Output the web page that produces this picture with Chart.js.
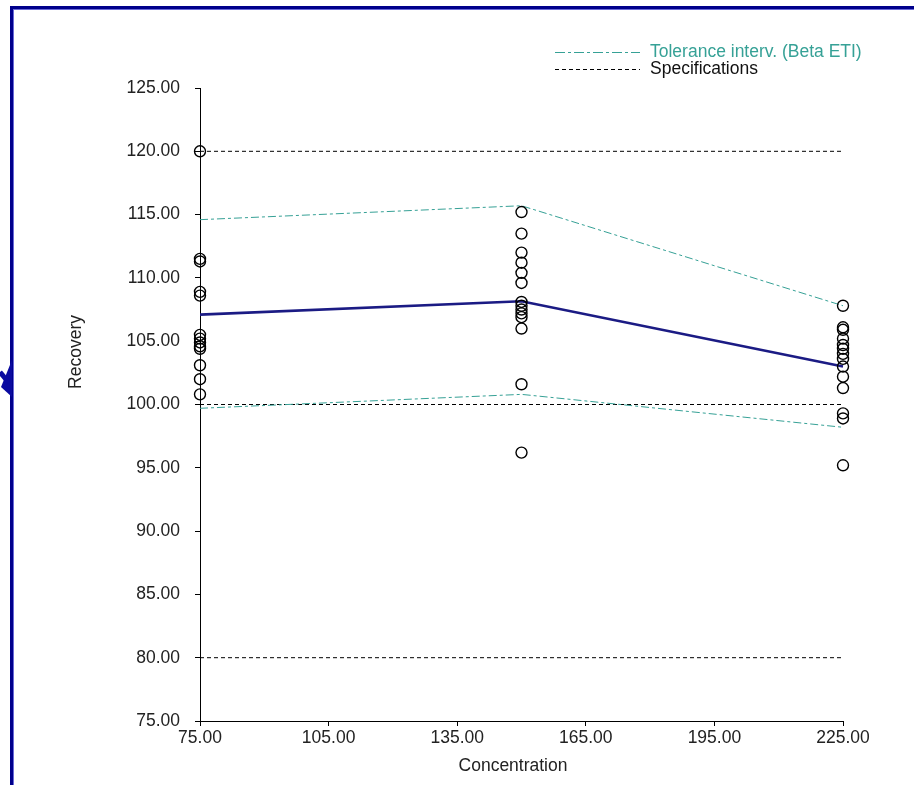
<!DOCTYPE html>
<html>
<head>
<meta charset="utf-8">
<script src="https://cdn.jsdelivr.net/npm/chart.js@4/dist/chart.umd.min.js"></script>
<style>
  html, body { margin: 0; padding: 0; background: #ffffff; }
  #wrap { position: absolute; left: 0; top: 0; width: 914px; height: 785px; }
</style>
</head>
<body>
<div id="wrap"><canvas id="c" width="914" height="785"></canvas></div>
<script>
// ---- data ----
const concentrations = [75, 150, 225];
const recovery75  = [120.0, 111.5, 111.3, 108.9, 108.6, 105.5, 105.2, 104.9, 104.6, 104.4, 103.1, 102.0, 100.8];
const recovery150 = [115.2, 113.5, 112.0, 111.2, 110.4, 109.6, 108.1, 107.8, 107.5, 107.2, 106.9, 106.0, 101.6, 96.2];
const recovery225 = [107.8, 106.1, 105.9, 105.2, 104.7, 104.4, 104.0, 103.6, 103.0, 102.2, 101.3, 99.3, 98.9, 95.2];
const meanRecovery   = [107.1, 108.15, 103.0];
const toleranceUpper = [114.6, 115.7, 107.8];
const toleranceLower = [99.7, 100.8, 98.2];
const specLimits = [120, 100, 80];
const xRange = [75, 225];
const yRange = [75, 125];
const legendLabels = ['Tolerance interv. (Beta ETI)', 'Specifications'];
const xTitle = 'Concentration';
const yTitle = 'Recovery';

// ---- build datasets ----
const recoveryGroups = [recovery75, recovery150, recovery225];
const pointData = [];
recoveryGroups.forEach((grp, i) => grp.forEach(v => pointData.push({ x: concentrations[i], y: v })));
const toXY = arr => arr.map((v, i) => ({ x: concentrations[i], y: v }));

const TEAL = '#36a196';
const NAVY = '#1b1b84';
const FONT = '"Liberation Sans", Arial, sans-serif';
const FSIZE = 17.5;

const datasets = [
  { label: 'obs', data: pointData, showLine: false, pointStyle: 'circle', pointRadius: 5.5,
    pointBorderColor: '#000', pointBackgroundColor: 'rgba(0,0,0,0)', pointBorderWidth: 1.4, clip: false },
  { label: 'mean', data: toXY(meanRecovery), showLine: true, borderColor: NAVY, borderWidth: 2.6,
    pointRadius: 0, tension: 0, clip: false },
  { label: 'tolU', data: toXY(toleranceUpper), showLine: true, borderColor: TEAL, borderWidth: 1,
    borderDash: [8, 3, 3, 3], pointRadius: 0, tension: 0, clip: false },
  { label: 'tolL', data: toXY(toleranceLower), showLine: true, borderColor: TEAL, borderWidth: 1,
    borderDash: [8, 3, 3, 3], pointRadius: 0, tension: 0, clip: false }
];
specLimits.forEach(s => datasets.push({
  label: 'spec' + s, data: [{ x: xRange[0], y: s }, { x: xRange[1], y: s }], showLine: true,
  borderColor: '#000', borderWidth: 1, borderDash: [4, 3], pointRadius: 0, tension: 0, clip: false
}));

const decorPlugin = {
  id: 'decor',
  beforeDraw(chart) {
    const ctx = chart.ctx;
    ctx.save();
    ctx.fillStyle = '#fff';
    ctx.fillRect(0, 0, chart.width, chart.height);
    ctx.restore();
  },
  afterDraw(chart) {
    const ctx = chart.ctx;
    ctx.save();
    // outer frame
    ctx.fillStyle = '#00008b';
    ctx.fillRect(10, 6, chart.width - 10, 3);
    ctx.fillRect(10, 6, 3, chart.height - 6);
    ctx.fillStyle = '#6a6ad8';
    ctx.fillRect(13, 9, chart.width - 13, 1);
    ctx.fillRect(13, 9, 1, chart.height - 9);
    // arrow fragment on the left edge
    ctx.fillStyle = '#0a0aa0';
    ctx.beginPath();
    ctx.moveTo(12, 360); ctx.lineTo(12, 397); ctx.lineTo(1, 387); ctx.closePath();
    ctx.fill();
    ctx.strokeStyle = '#0a0aa0';
    ctx.lineWidth = 5;
    ctx.beginPath();
    ctx.moveTo(0, 372); ctx.lineTo(9, 383);
    ctx.stroke();

    // axis titles
    ctx.fillStyle = '#222';
    ctx.font = FSIZE + 'px ' + FONT;
    ctx.textAlign = 'center';
    ctx.textBaseline = 'middle';
    ctx.fillText(xTitle, 513, 766);
    ctx.save();
    ctx.translate(76, 352);
    ctx.rotate(-Math.PI / 2);
    ctx.fillText(yTitle, 0, 0);
    ctx.restore();

    // legend
    ctx.textAlign = 'left';
    ctx.lineWidth = 1;
    ctx.strokeStyle = TEAL;
    ctx.setLineDash([10, 3, 3, 3]);
    ctx.beginPath(); ctx.moveTo(555, 52.5); ctx.lineTo(640, 52.5); ctx.stroke();
    ctx.fillStyle = TEAL;
    ctx.fillText(legendLabels[0], 650, 52);
    ctx.strokeStyle = '#000';
    ctx.setLineDash([4, 3]);
    ctx.beginPath(); ctx.moveTo(555, 69.5); ctx.lineTo(640, 69.5); ctx.stroke();
    ctx.fillStyle = '#111';
    ctx.fillText(legendLabels[1], 650, 69);
    ctx.restore();
  }
};

new Chart(document.getElementById('c'), {
  type: 'scatter',
  data: { datasets },
  options: {
    responsive: false,
    animation: false,
    devicePixelRatio: 1,
    layout: { padding: { left: 0, top: 88, right: 71, bottom: 0 } },
    plugins: { legend: { display: false }, tooltip: { enabled: false } },
    scales: {
      x: {
        type: 'linear', min: xRange[0], max: xRange[1],
        afterFit(s) { s.height = 64; },
        ticks: { stepSize: 30, padding: 2, color: '#222', font: { family: FONT, size: FSIZE },
                 callback: v => Number(v).toFixed(2) },
        grid: { drawOnChartArea: false, drawTicks: true, tickLength: 5, color: '#000', tickColor: '#000' },
        border: { display: true, color: '#000', width: 1 }
      },
      y: {
        type: 'linear', min: yRange[0], max: yRange[1],
        afterFit(s) { s.width = 200; },
        ticks: { stepSize: 5, padding: 15, color: '#222', font: { family: FONT, size: FSIZE },
                 callback: v => Number(v).toFixed(2) },
        grid: { drawOnChartArea: false, drawTicks: true, tickLength: 5, color: '#000', tickColor: '#000' },
        border: { display: true, color: '#000', width: 1 }
      }
    }
  },
  plugins: [decorPlugin]
});
</script>
</body>
</html>
